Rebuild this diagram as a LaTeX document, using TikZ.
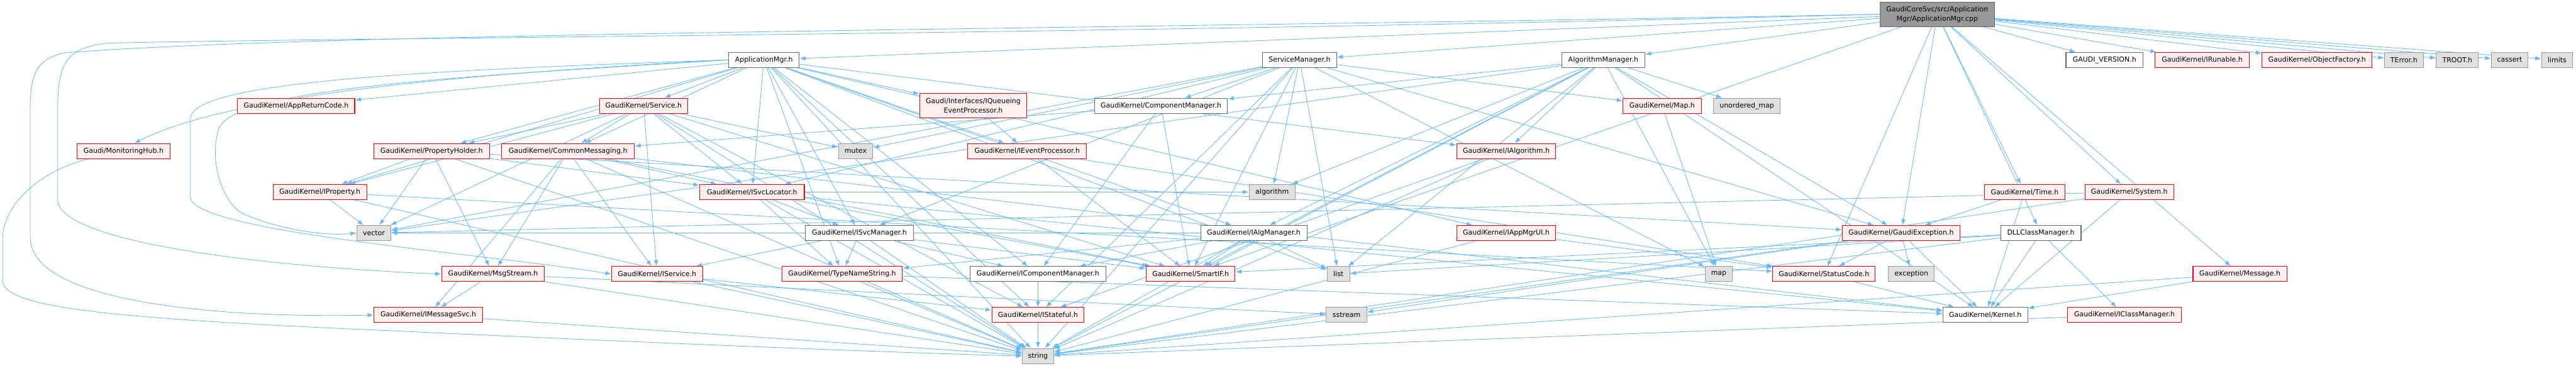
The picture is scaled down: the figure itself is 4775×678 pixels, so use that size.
\documentclass[tikz,border=0pt]{standalone}
\usepackage{fontspec}
\setmainfont{DejaVu Sans}
\usetikzlibrary{arrows.meta}
\definecolor{EdgeBlue}{RGB}{99,184,255}
\definecolor{HdrRed}{RGB}{255,0,0}
\definecolor{HdrFill}{RGB}{255,240,240}
\definecolor{ExtFill}{RGB}{224,224,224}
\definecolor{ExtLine}{RGB}{153,153,153}
\definecolor{PlainLine}{RGB}{102,102,102}
\definecolor{MainFill}{RGB}{153,153,153}
\pgfdeclarelayer{edges}
\pgfsetlayers{edges,main}
\tikzset{
	filebox/.style={
		draw,
		line width=1.2pt,
		minimum height=28pt,
		inner xsep=4pt,
		inner ysep=2pt,
		font=\fontsize{12.8pt}{17pt}\selectfont
	},
	hdr/.style={filebox, draw=HdrRed, fill=HdrFill},
	ext/.style={filebox, draw=ExtLine, fill=ExtFill},
	plain/.style={filebox, draw=PlainLine, fill=white},
	srcfile/.style={filebox, draw=PlainLine, fill=MainFill, align=center, minimum height=45pt},
	dep/.style={EdgeBlue, line width=1pt, -{Latex[length=11pt,width=8pt]}}
}

\begin{document}
\begin{tikzpicture}[x=1pt, y=-1pt]

	\useasboundingbox (0,0) rectangle (4775,678);

	% source file
	\node[srcfile, minimum width=213pt] (main) at (3591,26.5) {GaudiCoreSvc/src/Application\\Mgr/ApplicationMgr.cpp};

	% rank 1
	\node[plain, minimum width=131pt] (appmgr) at (1416,111) {ApplicationMgr.h};
	\node[plain, minimum width=137pt] (svcmgr) at (2409,111) {ServiceManager.h};
	\node[plain, minimum width=154pt] (algmgr) at (2972,111) {AlgorithmManager.h};
	\node[plain, minimum width=143pt] (gversion) at (3901,111) {GAUDI\_VERSION.h};
	\node[hdr, minimum width=175pt] (irunable) at (4082,111) {GaudiKernel/IRunable.h};
	\node[hdr, minimum width=204pt] (objfactory) at (4295,111) {GaudiKernel/ObjectFactory.h};
	\node[ext, minimum width=72pt] (terror) at (4456,111) {TError.h};
	\node[ext, minimum width=78pt] (troot) at (4555,111) {TROOT.h};
	\node[ext, minimum width=68pt] (cassert) at (4652,111) {cassert};
	\node[ext, minimum width=58pt] (limits) at (4740,111) {limits};

	% rank 2
	\node[hdr, minimum width=217pt] (appretcode) at (549,196) {GaudiKernel/AppReturnCode.h};
	\node[hdr, minimum width=164pt] (service) at (1193,196) {GaudiKernel/Service.h};
	\node[hdr, minimum width=199pt, align=center, minimum height=45pt] (iqueueing) at (1804,196) {Gaudi/Interfaces/IQueueing\\EventProcessor.h};
	\node[plain, minimum width=247pt] (compmgr) at (2152,196) {GaudiKernel/ComponentManager.h};
	\node[hdr, minimum width=145pt] (maph) at (3081,196) {GaudiKernel/Map.h};
	\node[ext, minimum width=123pt] (umap) at (3238,196) {unordered\_map};

	% rank 3
	\node[hdr, minimum width=172pt] (monhub) at (229,280) {Gaudi/MonitoringHub.h};
	\node[hdr, minimum width=214pt] (propholder) at (800,280) {GaudiKernel/PropertyHolder.h};
	\node[hdr, minimum width=246pt] (commonmsg) at (1053,280) {GaudiKernel/CommonMessaging.h};
	\node[ext, minimum width=64pt] (mutex) at (1586,280) {mutex};
	\node[hdr, minimum width=220pt] (ievtproc) at (1904,280) {GaudiKernel/IEventProcessor.h};
	\node[hdr, minimum width=184pt] (ialgorithm) at (2792,280) {GaudiKernel/IAlgorithm.h};

	% rank 4
	\node[hdr, minimum width=174pt] (iproperty) at (593,356) {GaudiKernel/IProperty.h};
	\node[hdr, minimum width=194pt] (isvcloc) at (1394,356) {GaudiKernel/ISvcLocator.h};
	\node[ext, minimum width=85pt] (algorithm) at (2358,356) {algorithm};
	\node[hdr, minimum width=149pt] (timeh) at (3753,356) {GaudiKernel/Time.h};
	\node[hdr, minimum width=165pt] (systemh) at (3947,356) {GaudiKernel/System.h};

	% rank 5
	\node[ext, minimum width=63pt] (vector) at (693,432) {vector};
	\node[plain, minimum width=200pt] (isvcmgr) at (1593,432) {GaudiKernel/ISvcManager.h};
	\node[plain, minimum width=197pt] (ialgmgr) at (2324,432) {GaudiKernel/IAlgManager.h};
	\node[hdr, minimum width=184pt] (iappmgrui) at (2792,432) {GaudiKernel/IAppMgrUI.h};
	\node[hdr, minimum width=218pt] (gexception) at (3524,432) {GaudiKernel/GaudiException.h};
	\node[plain, minimum width=149pt] (dllclsmgr) at (3783,432) {DLLClassManager.h};

	% rank 6
	\node[hdr, minimum width=191pt] (msgstream) at (914,508) {GaudiKernel/MsgStream.h};
	\node[hdr, minimum width=169pt] (iservice) at (1218,508) {GaudiKernel/IService.h};
	\node[hdr, minimum width=223pt] (typename) at (1561,508) {GaudiKernel/TypeNameString.h};
	\node[plain, minimum width=252pt] (icompmgr) at (1924,508) {GaudiKernel/IComponentManager.h};
	\node[hdr, minimum width=165pt] (smartif) at (2207,508) {GaudiKernel/SmartIF.h};
	\node[ext, minimum width=42pt] (list) at (2481,508) {list};
	\node[ext, minimum width=51pt] (map) at (3186,508) {map};
	\node[hdr, minimum width=190pt] (statuscode) at (3381,508) {GaudiKernel/StatusCode.h};
	\node[ext, minimum width=85pt] (exception) at (3543,508) {exception};
	\node[hdr, minimum width=174pt] (message) at (4152,508) {GaudiKernel/Message.h};

	% rank 7
	\node[hdr, minimum width=202pt] (imsgsvc) at (794,584) {GaudiKernel/IMessageSvc.h};
	\node[hdr, minimum width=171pt] (istateful) at (1924,584) {GaudiKernel/IStateful.h};
	\node[ext, minimum width=75pt] (sstream) at (2496,584) {sstream};
	\node[plain, minimum width=157pt] (kernel) at (3680,584) {GaudiKernel/Kernel.h};
	\node[hdr, minimum width=211pt] (iclsmgr) at (3938,584) {GaudiKernel/IClassManager.h};

	% rank 8
	\node[ext, minimum width=58pt] (string) at (1924,660) {string};

	\begin{pgfonlayer}{edges}

		% includes of the source file
		\foreach \dst in {appmgr,svcmgr,algmgr,gversion,irunable,objfactory,terror,troot,cassert,limits,
			gexception,statuscode,dllclsmgr,timeh,systemh,message,smartif}
			\draw[dep] (main) -- (\dst);
		\draw[dep] (main.west) .. controls (2000,55) and (600,60) .. (120,98)
			.. controls (70,108) and (56,135) .. (56,200) -- (56,440)
			.. controls (56,560) and (400,590) .. (imsgsvc.west);
		\draw[dep] (main.west) .. controls (2000,65) and (600,70) .. (200,80)
			.. controls (125,88) and (107,115) .. (107,200) -- (107,370)
			.. controls (107,450) and (500,495) .. (msgstream.west);

		% ApplicationMgr.h
		\foreach \dst in {iqueueing,service,propholder,commonmsg,ievtproc,iproperty,isvcmgr,typename,
			icompmgr,istateful,ialgmgr,iappmgrui,ialgorithm,isvcloc,appretcode,list,string}
			\draw[dep] (appmgr) -- (\dst);
		\draw[dep] (appmgr.west) .. controls (800,130) and (353,150) .. (353,220) -- (353,365)
			.. controls (353,430) and (900,470) .. (iservice.west);
		\draw[dep] (appmgr.west) .. controls (900,140) and (430,160) .. (405,240)
			.. controls (385,310) and (420,390) .. (460,400)
			.. controls (520,425) and (600,438) .. (vector.west);
		\draw[dep] (appmgr.west) .. controls (800,140) and (420,180) .. ([xshift=20pt]monhub.north);

		% ServiceManager.h and AlgorithmManager.h
		\foreach \dst in {compmgr,mutex,isvcloc,isvcmgr,algorithm,list,maph,map,smartif,istateful,
			gexception,vector,string}
			\draw[dep] (svcmgr) -- (\dst);
		\foreach \dst in {compmgr,ialgorithm,ialgmgr,umap,algorithm,smartif,kernel,list,map,string,
			vector,gexception}
			\draw[dep] (algmgr) -- (\dst);

		% headers further down
		\draw[dep] (iqueueing) -- (ievtproc);
		\foreach \dst in {propholder,commonmsg,iservice,istateful,isvcloc,mutex,smartif,iproperty,vector,string}
			\draw[dep] (service) -- (\dst);
		\foreach \dst in {icompmgr,commonmsg,smartif}
			\draw[dep] (compmgr) -- (\dst);
		\draw[dep] (maph) -- (map);
		\draw[dep] ([xshift=22pt]monhub.south west) .. controls (60,320) and (5,390) .. (5,440) -- (5,520)
			.. controls (5,570) and (200,590) .. (700,612)
			.. controls (1300,640) and (1700,655) .. (string.west);
		\foreach \dst in {iproperty,vector,msgstream,string,isvcloc,gexception}
			\draw[dep] (propholder) -- (\dst);
		\foreach \dst in {imsgsvc,msgstream,string,iservice,isvcloc,smartif,kernel}
			\draw[dep] (commonmsg) -- (\dst);
		\foreach \dst in {smartif,statuscode}
			\draw[dep] (ievtproc) -- (\dst);
		\foreach \dst in {istateful,string}
			\draw[dep] (ialgorithm) -- (\dst);
		\foreach \dst in {vector,string,statuscode}
			\draw[dep] (iproperty) -- (\dst);
		\foreach \dst in {isvcmgr,typename,smartif,kernel,string,algorithm}
			\draw[dep] (isvcloc) -- (\dst);
		\foreach \dst in {gexception,kernel}
			\draw[dep] (timeh) -- (\dst);
		\foreach \dst in {kernel,string,vector}
			\draw[dep] (systemh) -- (\dst);
		\foreach \dst in {typename,icompmgr,iservice,smartif,string}
			\draw[dep] (isvcmgr) -- (\dst);
		\foreach \dst in {smartif,list,icompmgr,typename,string,vector}
			\draw[dep] (ialgmgr) -- (\dst);
		\foreach \dst in {statuscode,string}
			\draw[dep] (iappmgrui) -- (\dst);
		\foreach \dst in {statuscode,exception,kernel,string,sstream}
			\draw[dep] (gexception) -- (\dst);
		\foreach \dst in {kernel,iclsmgr,string,smartif,list}
			\draw[dep] (dllclsmgr) -- (\dst);
		\foreach \dst in {imsgsvc,string,sstream}
			\draw[dep] (msgstream) -- (\dst);
		\foreach \dst in {istateful,string}
			\draw[dep] (iservice) -- (\dst);
		\foreach \dst in {string,kernel}
			\draw[dep] (typename) -- (\dst);
		\draw[dep] (icompmgr) -- (istateful);
		\draw[dep] (statuscode) -- (kernel);
		\foreach \dst in {kernel,string}
			\draw[dep] (message) -- (\dst);
		\draw[dep] (imsgsvc) -- (string);
		\draw[dep] (istateful) -- (string);
		\draw[dep] (iclsmgr) -- (string);

	\end{pgfonlayer}

\end{tikzpicture}
\end{document}
